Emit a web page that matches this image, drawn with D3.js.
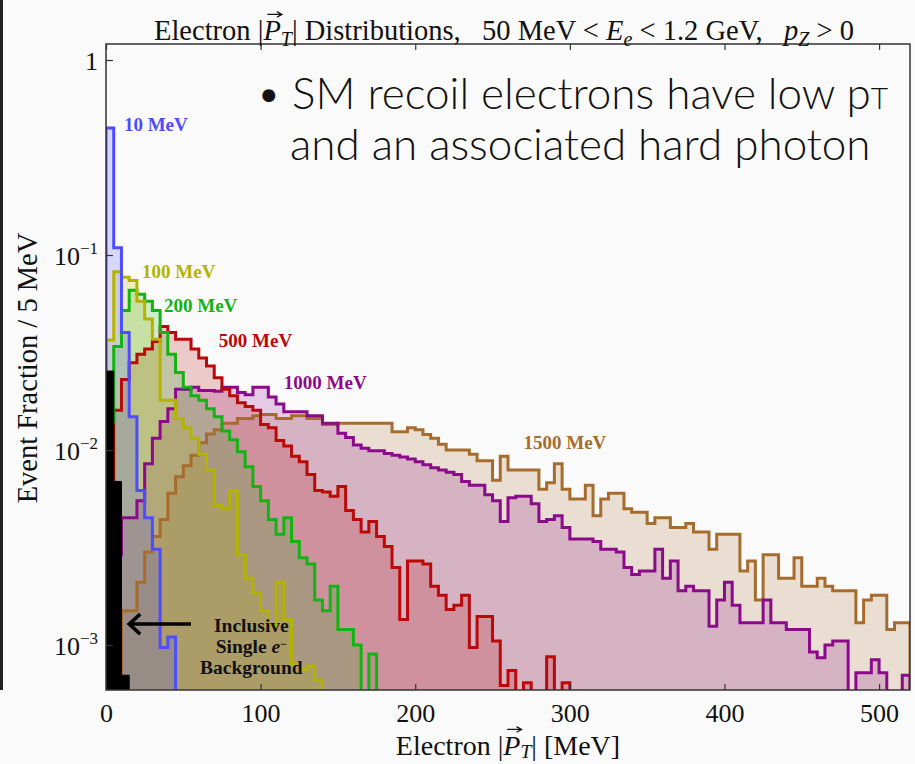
<!DOCTYPE html>
<html>
<head>
<meta charset="utf-8">
<script src="https://cdn.jsdelivr.net/npm/d3@7"></script>
<style>
  body { margin: 0; background: #fafafa; }
  svg { display: block; }
</style>
</head>
<body>
<svg id="chart"></svg>
<script>
// bin width of every histogram, MeV
const binWidth = 5;

// event fraction per 5 MeV bin, starting at 0 MeV
const background = [0.0254, 0.0069, 0.0007];
const mev10 = [0.448, 0.109, 0.040, 0.0148, 0.0062, 0.0045, 0.0031, 0.00097, 0.0011];
const mev100 = [0.0367, 0.082, 0.077, 0.074, 0.058, 0.047, 0.037, 0.018, 0.018, 0.0145,
  0.013, 0.0115, 0.0095, 0.0079, 0.0052, 0.0050, 0.0062, 0.0029, 0.0022, 0.00185,
  0.0015, 0.00126, 0.0021, 0.00135, 0.0008, 0.00075, 0.00078, 0.00066];
const mev200 = [0.014, 0.034, 0.052, 0.066, 0.063, 0.058, 0.052, 0.040, 0.031, 0.025,
  0.021, 0.019, 0.018, 0.0163, 0.0148, 0.0125, 0.0113, 0.0098, 0.0082, 0.0065,
  0.0055, 0.0044, 0.0037, 0.0045, 0.0034, 0.0028, 0.0026, 0.0017, 0.0015, 0.0020,
  0.0012, 0.0012, 0.0010, 0, 0.0009];
const mev500 = [0.0032, 0.016, 0.023, 0.028, 0.031, 0.033, 0.036, 0.043, 0.040, 0.037,
  0.037, 0.033, 0.0296, 0.027, 0.0235, 0.0205, 0.019, 0.0175, 0.0167, 0.016,
  0.0135, 0.013, 0.0112, 0.0105, 0.0093, 0.0087, 0.0075, 0.0062, 0.0061, 0.0058,
  0.0065, 0.0049, 0.0044, 0.0038, 0.0043, 0.0036, 0.0032, 0.0025, 0.00135, 0.0027,
  0.0027, 0.0026, 0.0020, 0.0018, 0.00152, 0.0016, 0.0018, 0.00097, 0.0014, 0.0014,
  0.00105, 0.00062, 0.00074, 0, 0.00064, 0, 0, 0.00087, 0, 0.00064];
const mev1000 = [0.0012, 0.0029, 0.0045, 0.0045, 0.0055, 0.0085, 0.0115, 0.014, 0.0163, 0.0205,
  0.0205, 0.021, 0.0202, 0.0202, 0.020, 0.021, 0.021, 0.0197, 0.0192, 0.021,
  0.021, 0.0187, 0.0172, 0.0157, 0.0157, 0.0157, 0.0150, 0.0150, 0.0137, 0.0137,
  0.0122, 0.0116, 0.0106, 0.0102, 0.0099, 0.0099, 0.0096, 0.0094, 0.0092, 0.0090,
  0.0087, 0.0084, 0.0081, 0.0079, 0.0077, 0.0075, 0.0069, 0.0066, 0.0066, 0.0059,
  0.0055, 0.0043, 0.0057, 0.0058, 0.0058, 0.0053, 0.0043, 0.0044, 0.0046, 0.0040,
  0.0035, 0.0035, 0.0035, 0.0034, 0.0031, 0.0031, 0.0030, 0.0025, 0.0023, 0.0024,
  0.0024, 0.0031, 0.0022, 0.0027, 0.0019, 0.0020, 0.0019, 0.0019, 0.00125, 0.0017,
  0.0021, 0.0016, 0.0013, 0.0013, 0.0013, 0.0017, 0.0013, 0.0013, 0.0012, 0.0012,
  0.0012, 0.00092, 0.00086, 0.0010, 0.00105, 0.00105, 0, 0.00072, 0.00072, 0.00084,
  0.00072, 0, 0, 0.0007];
const mev1500 = [0.0008, 0.0006, 0.0015, 0.0015, 0.0021, 0.0030, 0.0036, 0.0044, 0.006, 0.0073,
  0.0083, 0.0094, 0.0109, 0.0121, 0.0127, 0.0137, 0.0137, 0.0145, 0.0145, 0.0150,
  0.0152, 0.0152, 0.0145, 0.0145, 0.0150, 0.0150, 0.0145, 0.0145, 0.0135, 0.0135,
  0.0137, 0.0137, 0.0137, 0.0137, 0.0137, 0.0137, 0.0137, 0.0124, 0.0124, 0.0130,
  0.0127, 0.0120, 0.0115, 0.0107, 0.0100, 0.0100, 0.0100, 0.0095, 0.0088, 0.0088,
  0.0070, 0.0093, 0.0079, 0.0079, 0.0079, 0.0079, 0.0063, 0.0068, 0.0085, 0.0063,
  0.0056, 0.0056, 0.0066, 0.0046, 0.0056, 0.0060, 0.0060, 0.0050, 0.0048, 0.0048,
  0.0042, 0.0045, 0.0045, 0.0040, 0.0040, 0.0042, 0.0038, 0.0038, 0.0031, 0.0037,
  0.0037, 0.0037, 0.0024, 0.0027, 0.0017, 0.0029, 0.0029, 0.0022, 0.0022, 0.0028,
  0.0020, 0.0020, 0.0022, 0.0020, 0.0019, 0.0019, 0.0019, 0.0013, 0.0017, 0.0018,
  0.0018, 0.0012, 0.0013, 0.0013];

const xTicks = [0, 100, 200, 300, 400, 500];
const yTicks = [1, 0.1, 0.01, 0.001];

let width = 915;
let height = 764;

let svg = d3.select('#chart')
        .attr('width', width)
        .attr('height', height)
        .style('font-family', '"Liberation Serif", "Times New Roman", serif');

svg.append('rect')
        .attr('width', width)
        .attr('height', height)
        .attr('fill', '#fafafa');

// edge of the slide panel on the left
svg.append('rect')
        .attr('x', 0).attr('y', 0)
        .attr('width', 3).attr('height', 690)
        .attr('fill', '#222');

let xScale = d3.scaleLinear()
        .domain([0, 520])
        .range([106, 910]);

let yScale = d3.scaleLog()
        .domain([5.88e-4, 1.208])
        .range([690, 44]);

let plotBottom = yScale.range()[0];
let plotTop = yScale.range()[1];

svg.append('defs').append('clipPath')
        .attr('id', 'plotclip')
        .append('rect')
        .attr('x', xScale.range()[0])
        .attr('y', plotTop)
        .attr('width', xScale.range()[1] - xScale.range()[0])
        .attr('height', plotBottom - plotTop);

// turn bin values into step points: start and end on the floor
function steps(vals) {
  let pts = [{e: 0, v: 0}];
  vals.forEach((v, i) => pts.push({e: i * binWidth, v: v}));
  pts.push({e: vals.length * binWidth, v: vals[vals.length - 1]});
  pts.push({e: vals.length * binWidth, v: 0});
  return pts;
}

let yOf = d => d.v > 0 ? yScale(d.v) : plotBottom + 8;

let line = d3.line()
        .x(d => xScale(d.e))
        .y(yOf)
        .curve(d3.curveStepAfter);

let area = d3.area()
        .x(d => xScale(d.e))
        .y0(plotBottom + 8)
        .y1(yOf)
        .curve(d3.curveStepAfter);

let series = [
  {name: '1500 MeV', vals: mev1500, color: '#a66c2e', lx: 270, ly: 0.0101},
  {name: '1000 MeV', vals: mev1000, color: '#8a0a8a', lx: 115, ly: 0.0206},
  {name: '500 MeV', vals: mev500, color: '#bb0808', lx: 73, ly: 0.0337},
  {name: '200 MeV', vals: mev200, color: '#12b312', lx: 37.5, ly: 0.051},
  {name: '100 MeV', vals: mev100, color: '#b3b300', lx: 23.3, ly: 0.0762},
  {name: '10 MeV', vals: mev10, color: '#4d4dff', lx: 11.6, ly: 0.432}
];

let plot = svg.append('g').attr('clip-path', 'url(#plotclip)');

plot.selectAll('path.fill')
        .data(series)
        .enter()
        .append('path')
        .attr('class', 'fill')
        .attr('d', d => area(steps(d.vals)))
        .attr('fill', d => d.color)
        .attr('fill-opacity', 0.2);

plot.selectAll('path.edge')
        .data(series)
        .enter()
        .append('path')
        .attr('class', 'edge')
        .attr('d', d => line(steps(d.vals)))
        .attr('fill', 'none')
        .attr('stroke', d => d.color)
        .attr('stroke-width', 3)
        .attr('stroke-linejoin', 'miter');

// inclusive single-electron background, solid black
plot.append('path')
        .attr('d', area(steps(background)))
        .attr('fill', '#000')
        .attr('stroke', '#000')
        .attr('stroke-width', 1);

// frame and ticks
svg.append('rect')
        .attr('x', xScale.range()[0])
        .attr('y', plotTop)
        .attr('width', xScale.range()[1] - xScale.range()[0])
        .attr('height', plotBottom - plotTop)
        .attr('fill', 'none')
        .attr('stroke', '#333')
        .attr('stroke-width', 1.5);

let xAxis = d3.axisBottom(xScale).tickValues(xTicks).tickSize(-6).tickPadding(14);
let xAxisTop = d3.axisTop(xScale).tickValues(xTicks).tickSize(-6).tickFormat('');
let yAxis = d3.axisLeft(yScale).tickValues(yTicks).tickSize(-7).tickPadding(12).tickFormat('');

let gx = svg.append('g')
        .attr('transform', 'translate(0,' + plotBottom + ')')
        .call(xAxis);
svg.append('g')
        .attr('transform', 'translate(0,' + plotTop + ')')
        .call(xAxisTop);
let gy = svg.append('g')
        .attr('transform', 'translate(' + xScale.range()[0] + ',0)')
        .call(yAxis);

svg.selectAll('.domain').remove();
svg.selectAll('.tick line').attr('stroke', '#333').attr('stroke-width', 1.2);

gx.selectAll('text')
        .style('font-family', '"Liberation Serif", serif')
        .style('font-size', '26px')
        .attr('fill', '#111');

gy.selectAll('.tick').each(function (d) {
  let t = d3.select(this).select('text')
          .attr('x', -8)
          .attr('dy', '0.35em')
          .style('font-family', '"Liberation Serif", serif')
          .style('font-size', '26px')
          .attr('fill', '#111');
  let p = Math.round(Math.log10(d));
  if (p === 0) {
    t.text('1');
  } else {
    t.append('tspan').text('10');
    t.append('tspan').attr('dy', -11).style('font-size', '17px').text('\u2212' + (-p));
  }
});

// text with italic parts, subscripts and a vector arrow over P
function richText(sel, parts, size, drop) {
  parts.forEach(p => {
    let t = sel.append('tspan').text(p.t);
    if (p.i || p.vec) t.style('font-style', 'italic');
    if (p.sub) t.attr('dy', size * drop).style('font-size', (size * 0.7) + 'px');
    if (p.back) t.attr('dy', -size * drop);
    if (p.vec) t.classed('vec', true);
  });
  sel.selectAll('tspan.vec').each(function () {
    let b = this.getExtentOfChar(0);
    let g = d3.select(this.parentNode.parentNode);
    let ay = b.y - size * 0.02;
    let x0 = b.x + size * 0.14, x1 = b.x + b.width + size * 0.04;
    g.append('path')
            .attr('d', `M${x0},${ay}L${x1},${ay}M${x1 - size * 0.18},${ay - size * 0.1}L${x1},${ay}L${x1 - size * 0.18},${ay + size * 0.1}`)
            .attr('fill', 'none')
            .attr('stroke', '#111')
            .attr('stroke-width', size * 0.045);
  });
}

let titleG = svg.append('g');
let title = titleG.append('text')
        .attr('x', 504)
        .attr('y', 40)
        .style('text-anchor', 'middle')
        .style('font-size', '28.5px')
        .style('white-space', 'pre')
        .attr('fill', '#111');
richText(title, [
  {t: 'Electron |'}, {t: 'P', vec: true}, {t: 'T', sub: true, i: true},
  {t: '| Distributions,   50 MeV < ', back: true}, {t: 'E', i: true}, {t: 'e', sub: true, i: true},
  {t: ' < 1.2 GeV,   ', back: true}, {t: 'p', i: true}, {t: 'Z', sub: true, i: true},
  {t: ' > 0', back: true}
], 28.5, 0.22);

let xlabG = svg.append('g');
let xlab = xlabG.append('text')
        .attr('x', 508)
        .attr('y', 755)
        .style('text-anchor', 'middle')
        .style('font-size', '28px')
        .style('white-space', 'pre')
        .attr('fill', '#111');
richText(xlab, [
  {t: 'Electron |'}, {t: 'P', vec: true}, {t: 'T', sub: true, i: true},
  {t: '| [MeV]', back: true}
], 28, 0.12);

svg.append('text')
        .attr('transform', 'rotate(-90)')
        .attr('x', -368)
        .attr('y', 37)
        .style('text-anchor', 'middle')
        .style('font-size', '28.5px')
        .attr('fill', '#111')
        .text('Event Fraction / 5 MeV');

// series labels
svg.selectAll('text.slabel')
        .data(series)
        .enter()
        .append('text')
        .attr('class', 'slabel')
        .attr('x', d => xScale(d.lx))
        .attr('y', d => yScale(d.ly))
        .style('font-size', '19px')
        .style('font-weight', 'bold')
        .attr('fill', d => d.color)
        .text(d => d.name);

// arrow to the background histogram
let ay = yScale(0.00128);
svg.append('path')
        .attr('d', `M${xScale(55)},${ay}L${xScale(15)},${ay}M${xScale(15) + 11},${ay - 10}L${xScale(15)},${ay}L${xScale(15) + 11},${ay + 10}`)
        .attr('fill', 'none')
        .attr('stroke', '#000')
        .attr('stroke-width', 3.5);

// three annotation lines, each its own text
let noteX = xScale(94);
let noteStyle = s => s.style('text-anchor', 'middle')
        .style('font-size', '19.5px')
        .style('font-weight', 'bold')
        .attr('fill', '#111');
svg.append('text').attr('x', noteX).attr('y', 632).call(noteStyle).text('Inclusive');
let single = svg.append('text').attr('x', noteX).attr('y', 653).call(noteStyle);
single.append('tspan').text('Single ');
single.append('tspan').style('font-style', 'italic').text('e');
single.append('tspan').attr('dy', -5).style('font-size', '12px').text('\u2212');
svg.append('text').attr('x', noteX).attr('y', 674).call(noteStyle).text('Background');

// slide bullet text
let slide = svg.append('text')
        .style('font-family', 'Lato, "Open Sans", sans-serif')
        .style('font-weight', 300)
        .style('font-size', '44px')
        .attr('fill', '#111');
slide.append('tspan').attr('x', 256).attr('y', 109).text('\u2022');
slide.append('tspan').attr('x', 292).attr('y', 109).text('SM recoil electrons have low p');
slide.append('tspan').style('font-size', '30px').text('T');
slide.append('tspan').attr('x', 290).attr('y', 160).text('and an associated hard photon');
</script>
</body>
</html>
